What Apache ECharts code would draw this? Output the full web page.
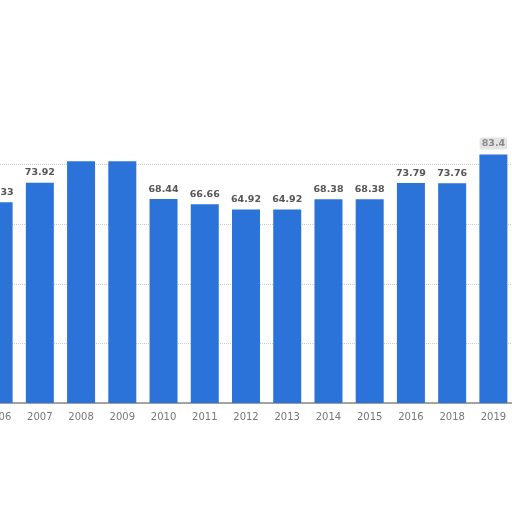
<!DOCTYPE html>
<html>
<head>
<meta charset="utf-8">
<script src="https://cdn.jsdelivr.net/npm/echarts@6/dist/echarts.min.js"></script>
<style>html,body{margin:0;padding:0;background:#fff;overflow:hidden;width:512px;height:512px}#c{position:absolute;left:-22px;top:0;width:536px;height:512px}</style>
</head>
<body>
<div id="c"></div>
<script>
const years = ['2006','2007','2008','2009','2010','2011','2012','2013','2014','2015','2016','2018','2019'];
const values = [67.33, 73.92, 81.1, 81.1, 68.44, 66.66, 64.92, 64.92, 68.38, 68.38, 73.79, 73.76, 83.4];
const hiddenLabels = ['2008','2009'];

const chart = echarts.init(document.getElementById('c'));
chart.setOption({
  animation: false,
  backgroundColor: '#fff',
  grid: { left: 0, right: 0, top: 105, bottom: 109, containLabel: false },
  xAxis: {
    type: 'category',
    data: years,
    axisLine: { lineStyle: { color: '#888', width: 1.5 } },
    axisTick: { show: false },
    axisLabel: { color: '#777', fontFamily: 'DejaVu Sans', fontSize: 10, margin: 9 }
  },
  yAxis: {
    type: 'value', min: 0, max: 100, interval: 20,
    axisLine: { show: false }, axisTick: { show: false }, axisLabel: { show: false },
    splitLine: { showMaxLine: false, lineStyle: { color: '#d0d0d0', type: 'dotted', width: 1 } }
  },
  series: [{
    type: 'bar',
    barWidth: 28,
    data: values.map((v, i) => {
      const y = years[i];
      const d = { value: v };
      if (hiddenLabels.includes(y)) d.label = { show: false };
      if (y === '2019') d.label = { show: true, color: '#888', backgroundColor: '#e4e4e4', padding: [1, 2], borderRadius: 2 };
      return d;
    }),
    itemStyle: { color: '#2b73d9' },
    label: {
      show: true, position: 'top', distance: 5,
      color: '#555', fontFamily: 'DejaVu Sans', fontWeight: 'bold', fontSize: 9.5,
      formatter: p => String(p.value)
    }
  }]
});
</script>
</body>
</html>
